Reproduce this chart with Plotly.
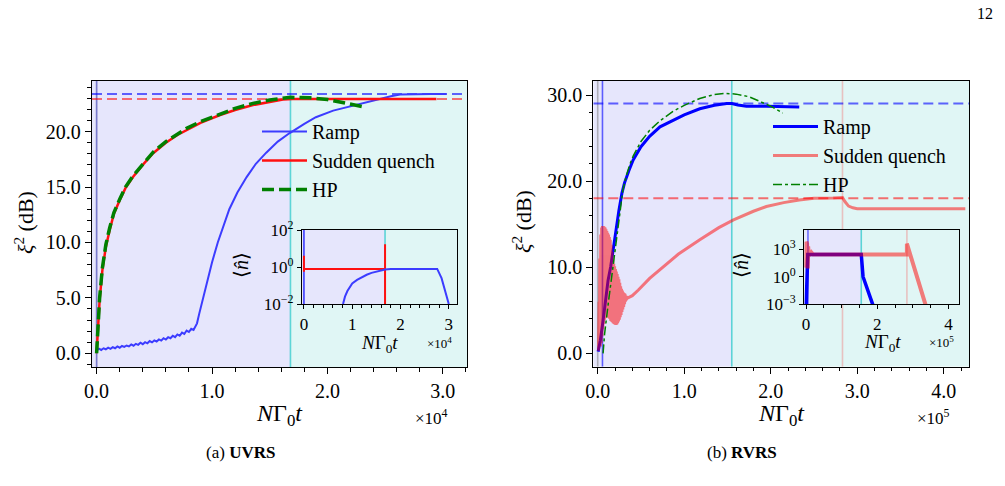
import plotly.graph_objects as go

FONT = "Liberation Serif"

# ---------------- (a) UVRS : main panel (x in units of 1e4) ----------------
a_ramp_x = [0.00, 0.02, 0.04, 0.06, 0.08, 0.10, 0.12, 0.14, 0.16, 0.18, 0.20, 0.22, 0.24, 0.26,
            0.28, 0.30, 0.32, 0.34, 0.36, 0.38, 0.40, 0.42, 0.44, 0.46, 0.48, 0.50, 0.52, 0.54,
            0.56, 0.58, 0.60, 0.62, 0.64, 0.66, 0.68, 0.70, 0.72, 0.74, 0.76, 0.78, 0.80, 0.82,
            0.84, 0.87, 0.89, 0.92, 0.95, 1.00, 1.05, 1.10, 1.15, 1.22, 1.30, 1.38, 1.47, 1.57,
            1.67, 1.80, 1.90, 2.05, 2.20, 2.35, 2.45, 2.55, 2.63, 2.75, 2.90, 3.03]
a_ramp_y = [0.25, 0.42, 0.30, 0.45, 0.36, 0.50, 0.40, 0.55, 0.45, 0.62, 0.50, 0.66, 0.58, 0.70,
            0.62, 0.80, 0.68, 0.85, 0.76, 0.95, 0.82, 1.00, 0.90, 1.10, 0.98, 1.16, 1.06, 1.25,
            1.14, 1.36, 1.24, 1.45, 1.36, 1.58, 1.45, 1.70, 1.58, 1.86, 1.74, 2.05, 1.92, 2.20,
            2.10, 2.70, 3.60, 4.90, 6.30, 8.20, 10.0, 11.6, 13.0, 14.5, 15.9, 17.1, 18.1, 19.1,
            19.85, 20.7, 21.3, 21.9, 22.3, 22.7, 22.95, 23.2, 23.35, 23.4, 23.4, 23.4]

a_sq_x = [0.0, 0.01, 0.026, 0.05, 0.08, 0.113, 0.15, 0.2, 0.25, 0.315, 0.4, 0.49, 0.6, 0.7,
          0.78, 0.9, 1.07, 1.2, 1.355, 1.5, 1.615, 1.7, 2.0, 2.5, 2.945]
a_sq_y = [0.0, 2.0, 4.8, 7.5, 9.6, 11.1, 12.6, 13.8, 14.9, 15.9, 17.0, 18.05, 19.0, 19.7,
          20.15, 20.8, 21.5, 21.95, 22.4, 22.7, 22.9, 22.95, 22.95, 22.95, 22.95]

a_hp_x = [0.0, 0.01, 0.026, 0.05, 0.08, 0.113, 0.15, 0.2, 0.25, 0.315, 0.4, 0.49, 0.6, 0.78,
          0.9, 1.07, 1.2, 1.355, 1.5, 1.68, 1.85, 2.0, 2.15, 2.31]
a_hp_y = [0.0, 2.2, 5.0, 7.7, 9.8, 11.3, 12.7, 13.9, 15.0, 16.0, 17.1, 18.15, 19.1, 20.3,
          20.9, 21.6, 22.1, 22.55, 22.85, 23.1, 23.05, 22.9, 22.6, 22.25]

a_ramp_steady = 23.4
a_sq_steady = 22.95
a_t_on = 0.0
a_t_switch = 1.68

# (a) inset : <n> on log axis
ai_sq_x = [0.0, 0.0, 0.0, 1.68, 1.68, 1.68]
ai_sq_n = [0.56, 4.0, 0.78, 0.78, 17.0, 0.0001]
ai_ramp_x = [0.81, 0.85, 0.90, 0.95, 1.00, 1.10, 1.20, 1.30, 1.40, 1.50, 1.60, 1.68, 1.80,
             2.00, 2.76, 2.85, 2.93, 3.00]
ai_ramp_n = [0.01, 0.025, 0.05, 0.089, 0.13, 0.2, 0.28, 0.38, 0.48, 0.575, 0.676, 0.74, 0.776,
             0.79, 0.79, 0.25, 0.05, 0.01]

# ---------------- (b) RVRS : main panel (x in units of 1e5) ----------------
b_ramp_x = [0.005, 0.03, 0.062, 0.088, 0.12, 0.15, 0.204, 0.245, 0.28, 0.31, 0.36, 0.41, 0.5,
            0.6, 0.72, 0.87, 1.0, 1.18, 1.35, 1.49, 1.55, 1.62, 1.72, 1.95, 2.15, 2.33]
b_ramp_y = [0.2, 1.5, 3.8, 6.2, 8.5, 10.05, 13.9, 16.6, 18.6, 19.8, 21.2, 22.45, 24.0,
            25.2, 26.3, 27.1, 27.7, 28.4, 28.8, 29.0, 29.0, 28.85, 28.7, 28.7, 28.65, 28.6]

b_hp_x = [0.062, 0.08, 0.127, 0.177, 0.227, 0.262, 0.29, 0.33, 0.37, 0.41, 0.5, 0.6, 0.72,
          0.87, 1.0, 1.18, 1.35, 1.47, 1.6, 1.75, 1.88, 2.0, 2.14]
b_hp_y = [0.0, 2.3, 6.2, 10.05, 14.2, 17.0, 18.9, 20.6, 21.9, 22.9, 24.6, 25.9, 27.0,
          28.1, 28.8, 29.6, 30.05, 30.2, 30.1, 29.8, 29.2, 28.7, 27.9]

b_sq_x = [0.010, 0.016, 0.020, 0.025, 0.030, 0.035, 0.040, 0.045, 0.050, 0.055, 0.060, 0.065,
          0.070, 0.075, 0.080, 0.085, 0.090, 0.095, 0.100, 0.105, 0.110, 0.115, 0.120, 0.125,
          0.130, 0.135, 0.140, 0.145, 0.150, 0.155, 0.160, 0.165, 0.170, 0.175, 0.180, 0.185,
          0.190, 0.195, 0.200, 0.205, 0.210, 0.215, 0.220, 0.225, 0.230, 0.235, 0.240, 0.245,
          0.250, 0.255, 0.260, 0.265, 0.270, 0.275, 0.280, 0.285, 0.290, 0.295, 0.300, 0.305,
          0.310, 0.315, 0.320, 0.325, 0.330, 0.340, 0.350, 0.400, 0.470, 0.600, 0.795, 0.930,
          1.18, 1.40, 1.57, 1.80, 1.95, 2.15, 2.33, 2.50, 2.72, 2.83, 2.86, 2.90, 2.95, 3.00,
          3.50, 4.25]
b_sq_y = [0.3, 6.0, 1.0, 11.0, 0.8, 13.8, 1.2, 14.6, 2.0, 14.8, 2.8, 14.8,
          3.4, 14.7, 3.9, 14.6, 4.1, 14.4, 4.2, 14.2, 4.25, 14.0, 4.2, 13.8,
          4.1, 13.5, 4.0, 13.2, 3.8, 12.6, 3.7, 11.8, 3.6, 11.0, 3.5, 10.4,
          3.4, 10.1, 3.35, 9.8, 3.3, 9.5, 3.35, 9.2, 3.5, 8.9, 3.7, 8.6,
          3.9, 8.2, 4.2, 7.8, 4.45, 7.5, 4.8, 7.3, 5.1, 7.1, 5.4, 7.0,
          5.7, 6.9, 6.0, 6.7, 6.2, 6.5, 6.45, 6.7, 7.35, 8.7, 10.3, 11.5,
          13.2, 14.6, 15.5, 16.5, 17.05, 17.5, 17.8, 18.0, 18.05, 18.1, 17.6, 17.1, 16.9, 16.8,
          16.8, 16.8]

b_ramp_steady = 29.0
b_sq_steady = 18.0
b_t_zero = 0.0
b_t_on = 0.055
b_t_switch = 1.55
b_t_sq_switch = 2.83

# (b) inset
bi_sq_x = [0.0, 0.01, 0.02, 0.03, 0.05, 0.06, 0.08, 0.10, 0.13, 0.16, 0.20, 2.83, 2.83, 3.35, 3.40]
bi_sq_n = [10, 6300, 1000, 4000, 8, 2000, 160, 630, 200, 400, 263, 263, 4000, 0.001, 0.0002]
bi_ramp_x = [0.0, 0.01, 0.02, 0.03, 0.05, 1.55, 1.57, 1.60, 1.87, 1.90]
bi_ramp_n = [0.0003, 0.05, 3, 30, 263, 263, 4, 1.0, 0.001, 0.0003]

# ---------------- axis ranges / tick labels ----------------
A_XR = [-0.04, 3.21]
A_YR = [-1.24, 24.57]
AI_XR = [-0.04, 3.17]
AI_YR = [-2, 2]
B_XR = [-0.051, 4.296]
B_YR = [-1.55, 31.66]
BI_XR = [-0.048, 4.30]
BI_YR = [-3, 5.09]

a_xticks = [0, 1, 2, 3]
a_yticks = [0, 5, 10, 15, 20]
b_xticks = [0, 1, 2, 3, 4]
b_yticks = [0, 10, 20, 30]
ai_xticks = [0, 1, 2, 3]
ai_yticks = [0.01, 1, 100]
ai_ytext = ["10<sup>−2</sup>", "10<sup>0</sup>", "10<sup>2</sup>"]
bi_xticks = [0, 2, 4]
bi_yticks = [0.001, 1, 1000]
bi_ytext = ["10<sup>−3</sup>", "10<sup>0</sup>", "10<sup>3</sup>"]

LAV = "#e6e6fc"
CYA = "#e0f6f5"
BLUE_A = "rgba(0,0,255,0.6)"
RED_A = "rgba(255,0,0,0.55)"
CYAN_L = "rgba(0,191,191,0.6)"
GRAY_L = "rgba(128,128,128,0.55)"
PINK_L = "rgba(240,128,128,0.45)"

fig = go.Figure()

# ----- traces (a) -----
fig.add_trace(go.Scatter(x=a_ramp_x, y=a_ramp_y, mode="lines", name="Ramp",
                         line=dict(color="#3c3cff", width=2), xaxis="x", yaxis="y", legend="legend"))
fig.add_trace(go.Scatter(x=a_sq_x, y=a_sq_y, mode="lines", name="Sudden quench",
                         line=dict(color="#ff1010", width=2.5), xaxis="x", yaxis="y", legend="legend"))
fig.add_trace(go.Scatter(x=a_hp_x, y=a_hp_y, mode="lines", name="HP",
                         line=dict(color="#008000", width=3.5, dash="12px,5px"), xaxis="x", yaxis="y",
                         legend="legend"))
fig.add_trace(go.Scatter(x=ai_sq_x, y=ai_sq_n, mode="lines", showlegend=False,
                         line=dict(color="#ff1010", width=2), xaxis="x2", yaxis="y2"))
fig.add_trace(go.Scatter(x=ai_ramp_x, y=ai_ramp_n, mode="lines", showlegend=False,
                         line=dict(color="#3c3cff", width=2), xaxis="x2", yaxis="y2"))

# ----- traces (b) -----
fig.add_trace(go.Scatter(x=b_ramp_x, y=b_ramp_y, mode="lines", name="Ramp",
                         line=dict(color="#0000ff", width=3), xaxis="x3", yaxis="y3", legend="legend2"))
fig.add_trace(go.Scatter(x=b_sq_x, y=b_sq_y, mode="lines", name="Sudden quench", opacity=0.5,
                         line=dict(color="#ff0000", width=3), xaxis="x3", yaxis="y3", legend="legend2"))
fig.add_trace(go.Scatter(x=b_hp_x, y=b_hp_y, mode="lines", name="HP",
                         line=dict(color="#008000", width=1.5, dash="dashdot"), xaxis="x3", yaxis="y3",
                         legend="legend2"))
fig.add_trace(go.Scatter(x=bi_ramp_x, y=bi_ramp_n, mode="lines", showlegend=False,
                         line=dict(color="#0000ff", width=3.5), xaxis="x4", yaxis="y4"))
fig.add_trace(go.Scatter(x=bi_sq_x, y=bi_sq_n, mode="lines", showlegend=False, opacity=0.5,
                         line=dict(color="#ff0000", width=4), xaxis="x4", yaxis="y4"))

# ----- shapes -----
shapes = []


def span(xr, yr, x0, x1, y0, y1, color):
    shapes.append(dict(type="rect", xref=xr, yref=yr, x0=x0, x1=x1, y0=y0, y1=y1,
                       fillcolor=color, line=dict(width=0), layer="below"))


def vline(xr, yr, x, y0, y1, color, w=1.6):
    shapes.append(dict(type="line", xref=xr, yref=yr, x0=x, x1=x, y0=y0, y1=y1,
                       line=dict(color=color, width=w), layer="below"))


def hline(xr, yr, y, x0, x1, color, w=2):
    shapes.append(dict(type="line", xref=xr, yref=yr, x0=x0, x1=x1, y0=y, y1=y,
                       line=dict(color=color, width=w, dash="10px,5px"), layer="below"))


# (a) main
span("x", "y", A_XR[0], a_t_switch, A_YR[0], A_YR[1], LAV)
span("x", "y", a_t_switch, A_XR[1], A_YR[0], A_YR[1], CYA)
vline("x", "y", a_t_on, A_YR[0], A_YR[1], GRAY_L)
vline("x", "y", a_t_on, A_YR[0], A_YR[1], "rgba(0,0,255,0.3)")
vline("x", "y", a_t_switch, A_YR[0], A_YR[1], CYAN_L)
hline("x", "y", a_ramp_steady, A_XR[0], A_XR[1], BLUE_A)
hline("x", "y", a_sq_steady, A_XR[0], A_XR[1], RED_A)
# (a) inset
ai_lo, ai_hi = 10 ** AI_YR[0], 10 ** AI_YR[1]
span("x2", "y2", AI_XR[0], a_t_switch, ai_lo, ai_hi, LAV)
span("x2", "y2", a_t_switch, AI_XR[1], ai_lo, ai_hi, CYA)
vline("x2", "y2", a_t_on, ai_lo, ai_hi, "rgba(40,40,255,0.8)", 1.8)
vline("x2", "y2", a_t_switch, ai_lo, ai_hi, CYAN_L, 1.6)
# (b) main
span("x3", "y3", B_XR[0], b_t_switch, B_YR[0], B_YR[1], LAV)
span("x3", "y3", b_t_switch, B_XR[1], B_YR[0], B_YR[1], CYA)
vline("x3", "y3", b_t_zero, B_YR[0], B_YR[1], GRAY_L)
vline("x3", "y3", b_t_on, B_YR[0], B_YR[1], BLUE_A)
vline("x3", "y3", b_t_switch, B_YR[0], B_YR[1], CYAN_L)
vline("x3", "y3", b_t_sq_switch, B_YR[0], B_YR[1], PINK_L)
hline("x3", "y3", b_ramp_steady, B_XR[0], B_XR[1], BLUE_A)
hline("x3", "y3", b_sq_steady, B_XR[0], B_XR[1], RED_A)
# (b) inset
bi_lo, bi_hi = 10 ** BI_YR[0], 10 ** BI_YR[1]
span("x4", "y4", BI_XR[0], b_t_switch, bi_lo, bi_hi, LAV)
span("x4", "y4", b_t_switch, BI_XR[1], bi_lo, bi_hi, CYA)
vline("x4", "y4", b_t_on, bi_lo, bi_hi, BLUE_A, 1.4)
vline("x4", "y4", b_t_switch, bi_lo, bi_hi, CYAN_L, 1.6)
vline("x4", "y4", b_t_sq_switch, bi_lo, bi_hi, PINK_L, 1.6)

W, H = 1005, 486


def px(x0, x1):
    return [x0 / W, x1 / W]


def py(top, bottom):
    return [1 - bottom / H, 1 - top / H]


def ax_main(dom, rng, anchor, tickvals, ticktext=None, minor_dtick=None, fs=20, typ="linear",
            tl=6, mtl=3.5):
    d = dict(domain=dom, range=rng, anchor=anchor, type=typ, showline=True, mirror=True,
             linecolor="black", linewidth=1.3, ticks="outside", ticklen=tl, tickwidth=1.2,
             tickcolor="black", showgrid=False, zeroline=False, tickvals=tickvals,
             tickfont=dict(family=FONT, size=fs, color="black"))
    if ticktext is not None:
        d["ticktext"] = ticktext
    if minor_dtick is not None:
        d["minor"] = dict(ticks="outside", ticklen=mtl, tickwidth=1, tickcolor="black",
                          dtick=minor_dtick, showgrid=False)
    return d


fmt1 = lambda v: ["%.1f" % t for t in v]
fmt0 = lambda v: ["%d" % t for t in v]

layout = dict(
    width=W, height=H, margin=dict(l=0, r=0, t=0, b=0),
    paper_bgcolor="white", plot_bgcolor="rgba(0,0,0,0)", template="none",
    shapes=shapes,
    xaxis=ax_main(px(92, 467), A_XR, "y", a_xticks, fmt1(a_xticks), 0.2),
    yaxis=ax_main(py(81, 367), A_YR, "x", a_yticks, fmt1(a_yticks), 1),
    xaxis2=ax_main(px(302, 457), AI_XR, "y2", ai_xticks, fmt0(ai_xticks), 0.2, fs=17, tl=4, mtl=2.5),
    yaxis2=ax_main(py(230, 304), AI_YR, "x2", ai_yticks, ai_ytext, None, fs=17, typ="log", tl=4),
    xaxis3=ax_main(px(593.3, 969.3), B_XR, "y3", b_xticks, fmt1(b_xticks), 0.2),
    yaxis3=ax_main(py(80.7, 366.7), B_YR, "x3", b_yticks, fmt1(b_yticks), 2),
    xaxis4=ax_main(px(804.3, 959.3), BI_XR, "y4", bi_xticks, fmt0(bi_xticks), 0.5, fs=17, tl=4, mtl=2.5),
    yaxis4=ax_main(py(230, 304.3), BI_YR, "x4", bi_yticks, bi_ytext, None, fs=17, typ="log", tl=4),
    legend=dict(x=257 / W, y=1 - 112 / H, xanchor="left", yanchor="top", bgcolor="rgba(0,0,0,0)",
                font=dict(family=FONT, size=20, color="black"), itemwidth=45, tracegroupgap=0),
    legend2=dict(x=768 / W, y=1 - 107 / H, xanchor="left", yanchor="top", bgcolor="rgba(0,0,0,0)",
                 font=dict(family=FONT, size=20, color="black"), itemwidth=45, tracegroupgap=0),
)
fig.update_layout(**layout)

XT = "<i>N</i>Γ<sub>0</sub><i>t</i>"
YT = "<i>ξ</i><sup>2</sup> (dB)"
NT = "⟨<i>n̂</i>⟩"


def ann(text, x, y, size, angle=0):
    return dict(text=text, x=x / W, y=1 - y / H, xref="paper", yref="paper", showarrow=False,
                xanchor="center", yanchor="middle", textangle=angle,
                font=dict(family=FONT, size=size, color="black"))


fig.update_layout(annotations=[
    ann(YT, 24, 223, 22, -90),
    ann(YT, 522, 222, 22, -90),
    ann(XT, 279, 415, 24),
    ann(XT, 781, 415, 24),
    ann("×10<sup>4</sup>", 431, 417, 17),
    ann("×10<sup>5</sup>", 933, 417, 17),
    ann(NT, 241, 265, 20, -90),
    ann(NT, 741, 265, 20, -90),
    ann(XT, 379, 344, 19),
    ann(XT, 882, 343, 19),
    ann("×10<sup>4</sup>", 439, 343, 13),
    ann("×10<sup>5</sup>", 941, 342, 13),
    ann("(a) <b>UVRS</b>", 240, 452, 17),
    ann("(b) <b>RVRS</b>", 742, 452, 17),
    ann("12", 985, 13, 16),
])

fig.write_html("out.html")
